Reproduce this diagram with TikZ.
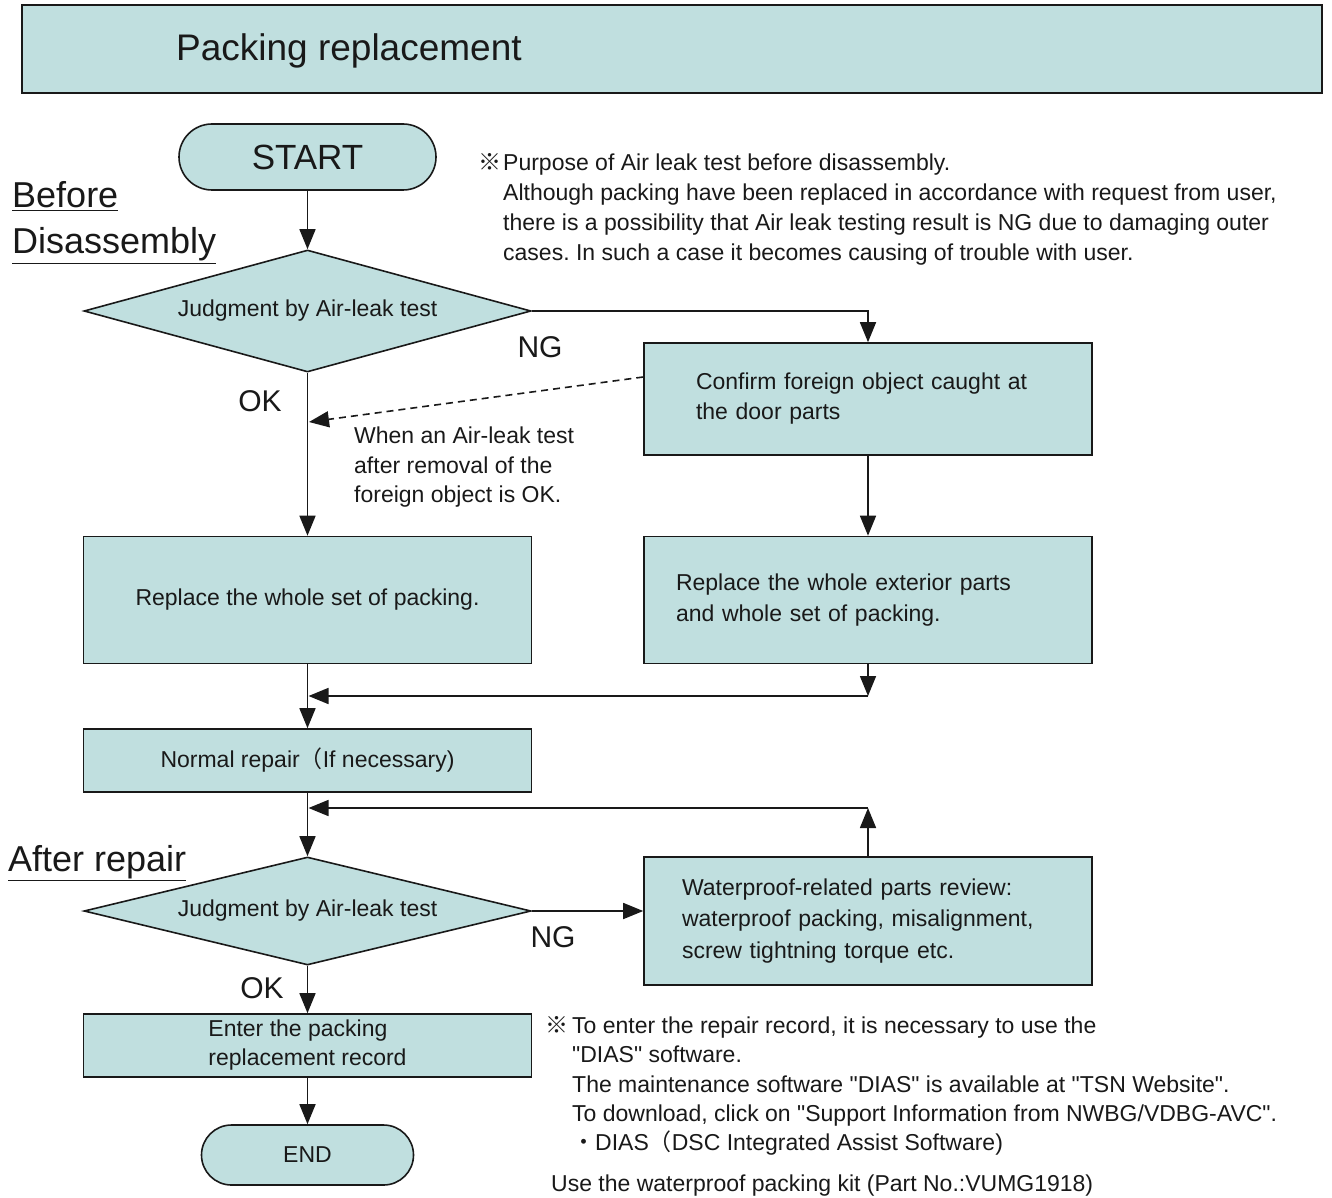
\documentclass[tikz,border=0pt]{standalone}
\usepackage{fontspec}
\setmainfont{Liberation Sans}[Ligatures=TeXOff]
\newfontfamily\cjk{Noto Sans CJK JP}
\usetikzlibrary{arrows.meta,shapes.geometric,shapes.misc}
\definecolor{boxfill}{RGB}{192,223,223}
\definecolor{ink}{RGB}{25,25,25}
\frenchspacing
\tikzset{
  every node/.style={font=\fontsize{23}{30}\selectfont, text=ink},
  flowbox/.style={draw=ink, fill=boxfill, line width=1.6pt, rectangle, minimum width=448pt, inner sep=0pt},
  term/.style={draw=ink, fill=boxfill, line width=1.6pt, rounded rectangle, inner sep=0pt},
  dec/.style={draw=ink, fill=boxfill, line width=1.6pt, diamond, inner sep=0pt, minimum width=447pt},
  flow/.style={draw=ink, line width=1.6pt, -{Triangle[length=20pt,width=16pt]}},
  lbl/.style={font=\fontsize{30}{36}\selectfont, inner sep=0pt},
  big/.style={font=\fontsize{36}{44}\selectfont, anchor=base west, inner sep=0pt},
  note/.style={anchor=base west, inner sep=0pt}
}
\begin{document}
\begin{tikzpicture}[x=1pt,y=-1pt]
\useasboundingbox (0,0) rectangle (1332,1198);
\fill[white] (0,0) rectangle (1332,1198);

% title
\node[draw=ink, fill=boxfill, line width=1.6pt, minimum width=1300pt, minimum height=88pt, inner sep=0pt] (title) at (672,49) {};
\node[anchor=west, font=\fontsize{37}{44}\selectfont, inner sep=0pt] (titletext) at (176,51) {Packing replacement};

% section labels
\node[big] (before) at (12,208) {\underline{Before}};
\node[big] (disas) at (12,254) {\underline{Disassembly}};
\node[big] (after) at (8,871) {\underline{After repair}};

% flow nodes
\node[term, minimum width=257pt, minimum height=66pt, font=\fontsize{35}{40}\selectfont] (start) at (307.5,157) {START};
\node[dec, aspect=3.66, minimum height=122pt] (d1) at (307.5,311) {Judgment by Air-leak test};
\node[flowbox, minimum height=112pt, text width=344pt, inner xsep=52pt, align=left, font=\fontsize{23}{30}\selectfont] (b2) at (868,399) {Confirm foreign object caught at\\the door parts};
\node[flowbox, minimum height=127pt] (b3) at (307.5,600) {Replace the whole set of packing.};
\node[flowbox, minimum height=127pt, text width=384pt, inner xsep=32pt, align=left, font=\fontsize{23}{31}\selectfont] (b4) at (868,600) {Replace the whole exterior parts\\and whole set of packing.};
\node[flowbox, minimum height=63pt] (b5) at (307.5,760.5) {Normal repair{\cjk （}If necessary)};
\node[dec, aspect=4.14, minimum height=108pt] (d2) at (307.5,911) {Judgment by Air-leak test};
\node[flowbox, minimum height=128pt, text width=372pt, inner xsep=38pt, align=left, font=\fontsize{23}{31.5}\selectfont] (b6) at (868,921) {Waterproof-related parts review:\\waterproof packing, misalignment,\\screw tightning torque etc.};
\node[flowbox, minimum height=63pt, align=left, font=\fontsize{23}{29}\selectfont] (b7) at (307.5,1045.5) {Enter the packing\\replacement record};
\node[term, minimum width=212pt, minimum height=60pt] (end) at (307.5,1155) {END};

% labels
\node[lbl] (ng1) at (540,347) {NG};
\node[lbl] (ok1) at (260,401) {OK};
\node[lbl] (ng2) at (553,937) {NG};
\node[lbl] (ok2) at (262,988) {OK};

% helper coordinates
\coordinate (c1) at (309,422);
\coordinate (m1) at (868,696);
\coordinate (m2) at (308.5,696);
\coordinate (r1) at (868,808);
\coordinate (r2) at (308.5,808);

% connectors
\draw[flow] (start.south) -- (d1.north);
\draw[flow] (d1.east) -| (b2.north);
\draw[flow] (d1.south) -- (b3.north);
\draw[flow, dash pattern=on 7pt off 5pt] ([yshift=22pt]b2.west) -- (c1);
\draw[flow] (b2.south) -- (b4.north);
\draw[flow] (b4.south) -- (m1);
\draw[flow] (m1) -- (m2);
\draw[flow] (b3.south) -- (b5.north);
\draw[flow] (b5.south) -- (d2.north);
\draw[flow] (d2.east) -- (d2.east -| b6.west);
\draw[flow] (b6.north) -- (r1);
\draw[flow] (r1) -- (r2);
\draw[flow] (d2.south) -- (b7.north);
\draw[flow] (b7.south) -- (end.north);

% notes
\node[note] (n1a) at (478,171) {\makebox[25pt][l]{\cjk ※}Purpose of Air leak test before disassembly.};
\node[note] (n1b) at (503,201) {Although packing have been replaced in accordance with request from user,};
\node[note] (n1c) at (503,231) {there is a possibility that Air leak testing result is NG due to damaging outer};
\node[note] (n1d) at (503,260) {cases. In such a case it becomes causing of trouble with user.};

\node[note] (n3a) at (354,443) {When an Air-leak test};
\node[note] (n3b) at (354,473) {after removal of the};
\node[note] (n3c) at (354,502) {foreign object is OK.};

\node[note] (n2a) at (545,1033) {\makebox[27pt][l]{\cjk ※}To enter the repair record, it is necessary to use the};
\node[note] (n2b) at (572,1062) {"DIAS" software.};
\node[note] (n2c) at (572,1092) {The maintenance software "DIAS" is available at "TSN Website".};
\node[note] (n2d) at (572,1121) {To download, click on "Support Information from NWBG/VDBG-AVC".};
\node[note] (n2e) at (572,1150) {{\cjk ・}DIAS{\cjk （}DSC Integrated Assist Software)};
\node[note] (n2f) at (551,1191) {Use the waterproof packing kit (Part No.:VUMG1918)};
\end{tikzpicture}
\end{document}
